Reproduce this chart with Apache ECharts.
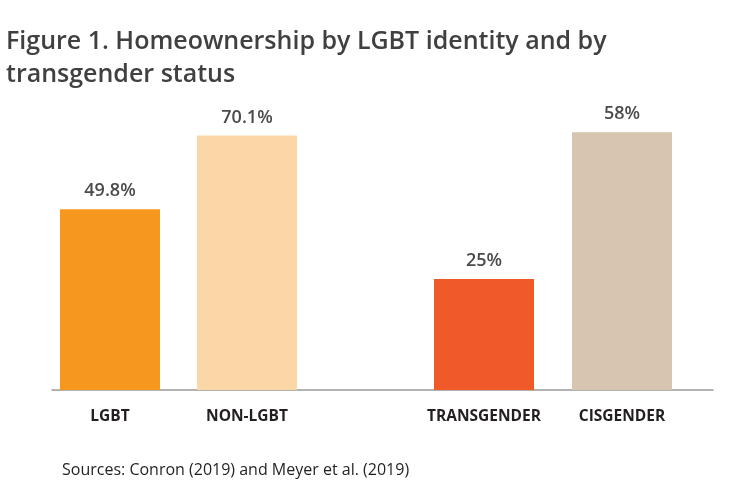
<!DOCTYPE html>
<html>
<head>
<meta charset="utf-8">
<script src="https://cdn.jsdelivr.net/npm/echarts@6/dist/echarts.min.js"></script>
<style>html,body{margin:0;padding:0;background:#fff}#c{width:733px;height:492px}</style>
</head>
<body>
<div id="c"></div>
<script>
const titleText = "Figure 1. Homeownership by LGBT identity and by\ntransgender status";
const sourceText = "Sources: Conron (2019) and Meyer et al. (2019)";
const leftCategories = ["LGBT", "NON-LGBT"];
const leftValues = [49.8, 70.1];
const leftLabels = ["49.8%", "70.1%"];
const rightCategories = ["TRANSGENDER", "CISGENDER"];
const rightValues = [25, 58];
const rightLabels = ["25%", "58%"];
const leftColors = ["#F7981E", "#FBD6A6"];
const rightColors = ["#F05A28", "#D7C5B0"];

const chart = echarts.init(document.getElementById('c'), null, {renderer: 'canvas'});
const font = "'Open Sans', 'Noto Sans', sans-serif";
const catLabel = {color: '#231F20', fontFamily: font, fontWeight: 'bold', fontSize: 15.5, margin: 19, interval: 0, hideOverlap: false};
const valLabel = {show: true, position: 'top', distance: 9, color: '#4A4A4A', fontFamily: font, fontWeight: 600, fontSize: 18};

chart.setOption({
  animation: false,
  title: [
    {text: titleText, left: 1, top: 20, textStyle: {fontFamily: font, fontWeight: 600, fontSize: 25, color: '#404040', lineHeight: 33}},
    {text: sourceText, left: 57, top: 457, textStyle: {fontFamily: font, fontWeight: 'normal', fontSize: 16, color: '#231F20'}}
  ],
  grid: [
    {left: 41.5, width: 274, top: 99.6, height: 290.4},
    {left: 415, width: 276, top: 123.3, height: 266.7},
    {left: 52, width: 661, top: 99.6, height: 290.4}
  ],
  xAxis: [
    {type: 'category', gridIndex: 0, data: leftCategories, axisLine: {show: false}, axisTick: {show: false}, axisLabel: catLabel},
    {type: 'category', gridIndex: 1, data: rightCategories, axisLine: {show: false}, axisTick: {show: false}, axisLabel: catLabel},
    {type: 'category', gridIndex: 2, data: [], axisLine: {show: true, lineStyle: {color: '#999999', width: 1.5}}, axisTick: {show: false}, axisLabel: {show: false}}
  ],
  yAxis: [
    {type: 'value', gridIndex: 0, min: 0, max: 80, show: false, splitLine: {show: false}},
    {type: 'value', gridIndex: 1, min: 0, max: 60, show: false, splitLine: {show: false}},
    {type: 'value', gridIndex: 2, min: 0, max: 1, show: false, splitLine: {show: false}}
  ],
  series: [
    {type: 'bar', xAxisIndex: 0, yAxisIndex: 0, barWidth: 100,
     data: leftValues.map((v, i) => ({value: v, itemStyle: {color: leftColors[i]}})),
     label: Object.assign({}, valLabel, {formatter: p => leftLabels[p.dataIndex]})},
    {type: 'bar', xAxisIndex: 1, yAxisIndex: 1, barWidth: 100,
     data: rightValues.map((v, i) => ({value: v, itemStyle: {color: rightColors[i]}})),
     label: Object.assign({}, valLabel, {formatter: p => rightLabels[p.dataIndex]})}
  ]
});
</script>
</body>
</html>
